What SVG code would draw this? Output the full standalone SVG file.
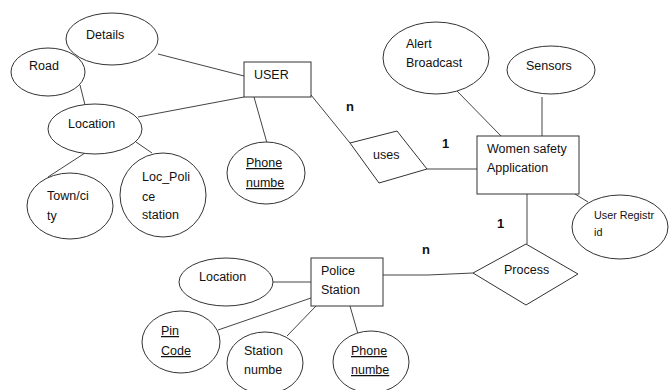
<svg xmlns="http://www.w3.org/2000/svg" width="670" height="390" viewBox="0 0 670 390">
<style>
.s{fill:#fff;stroke:#333;stroke-width:1}
.c line,.c polyline{stroke:#444;stroke-width:1;fill:none}
text{font-family:"Liberation Sans",Arial,sans-serif;font-size:12.5px;fill:#111}
.u{text-decoration:underline}
.sm{font-size:10.8px}
.lbl{font-size:13px;font-weight:bold}
</style>
<rect width="670" height="390" fill="#fff"/>
<g class="c" id="connectors">
<line x1="158" y1="54" x2="244" y2="76"/>
<line x1="80" y1="85" x2="85" y2="105"/>
<line x1="138" y1="117" x2="244" y2="97"/>
<line x1="85" y1="153" x2="48" y2="177"/>
<line x1="136" y1="142" x2="152" y2="153"/>
<line x1="254" y1="97" x2="267" y2="143"/>
<line x1="311" y1="95" x2="350" y2="143"/>
<line x1="427" y1="169" x2="477" y2="169"/>
<line x1="457" y1="91" x2="501" y2="136"/>
<line x1="542" y1="97" x2="542" y2="136"/>
<line x1="575" y1="194" x2="588" y2="202"/>
<line x1="527" y1="194" x2="527" y2="244"/>
<line x1="273" y1="282" x2="311" y2="282"/>
<polyline points="383,275 428,275 473,273"/>
<line x1="311" y1="298" x2="218" y2="330"/>
<line x1="316" y1="306" x2="287" y2="336"/>
<line x1="350" y1="306" x2="358" y2="334"/>
</g>
<g id="details"><ellipse class="s" cx="112" cy="39" rx="46" ry="26"/><text x="86" y="39">Details</text></g>
<g id="road"><ellipse class="s" cx="48" cy="72" rx="37" ry="24"/><text x="29" y="70">Road</text></g>
<g id="user"><rect class="s" x="244" y="62" width="67" height="35"/><text x="254" y="79">USER</text></g>
<g id="location"><ellipse class="s" cx="95" cy="129" rx="47" ry="25"/><text x="68" y="128">Location</text></g>
<g id="town"><ellipse class="s" cx="70" cy="206" rx="43" ry="33"/><text x="47" y="200">Town/ci</text><text x="47" y="220">ty</text></g>
<g id="locpolice"><ellipse class="s" cx="163" cy="195" rx="43" ry="42"/><text x="142" y="181">Loc_Poli</text><text x="142" y="201">ce</text><text x="142" y="219">station</text></g>
<g id="userphone"><ellipse class="s" cx="266" cy="173" rx="39" ry="31"/><text class="u" x="246" y="167">Phone</text><text class="u" x="246" y="187">numbe</text></g>
<g id="alert"><ellipse class="s" cx="436" cy="58" rx="53" ry="36"/><text x="406" y="48">Alert</text><text x="406" y="67">Broadcast</text></g>
<g id="sensors"><ellipse class="s" cx="551" cy="70" rx="44" ry="24"/><text x="526" y="70">Sensors</text></g>
<g id="uses"><polygon class="s" points="350,143 397,131 427,169 379,183"/><text x="373" y="159">uses</text></g>
<g id="wsa"><rect class="s" x="477" y="136" width="102" height="58"/><text x="487" y="153">Women safety</text><text x="487" y="172">Application</text></g>
<g id="userreg"><ellipse class="s" cx="620" cy="227" rx="48" ry="32"/><text class="sm" x="594" y="219">User Registr</text><text class="sm" x="594" y="236">id</text></g>
<g id="process"><polygon class="s" points="473,273 526,244 578,274 526,305"/><text x="504" y="274">Process</text></g>
<g id="pslocation"><ellipse class="s" cx="226" cy="282" rx="47" ry="24"/><text x="199" y="281">Location</text></g>
<g id="police"><rect class="s" x="311" y="258" width="72" height="48"/><text x="321" y="275">Police</text><text x="321" y="294">Station</text></g>
<g id="pincode"><ellipse class="s" cx="181" cy="342" rx="39" ry="31"/><text class="u" x="161" y="335">Pin</text><text class="u" x="161" y="355">Code</text></g>
<g id="stationnum"><ellipse class="s" cx="265" cy="363" rx="38" ry="31"/><text x="244" y="355">Station</text><text x="244" y="374">numbe</text></g>
<g id="psphone"><ellipse class="s" cx="371" cy="362" rx="38" ry="31"/><text class="u" x="351" y="355">Phone</text><text class="u" x="351" y="374">numbe</text></g>
<g id="labels">
<text class="lbl" x="346" y="111">n</text>
<text class="lbl" x="442" y="148">1</text>
<text class="lbl" x="497" y="228">1</text>
<text class="lbl" x="422" y="254">n</text>
</g>
</svg>
